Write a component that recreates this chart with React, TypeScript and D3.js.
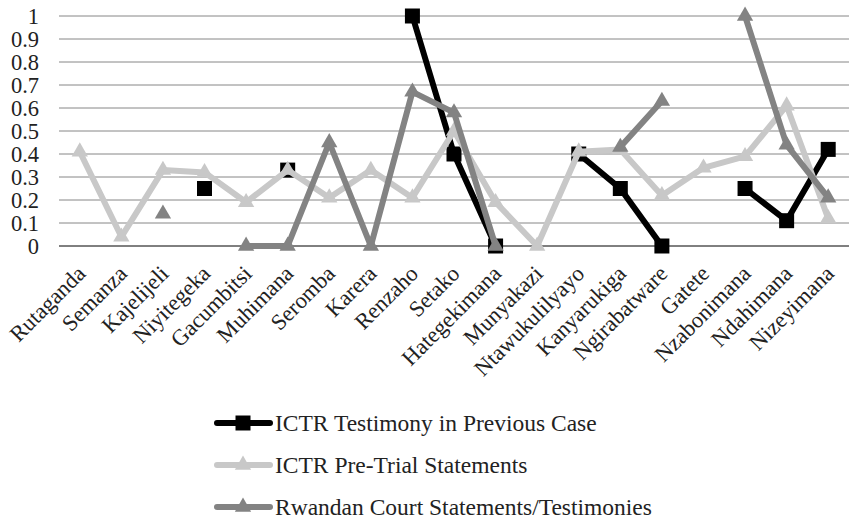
import React from "react";
import * as d3 from "d3";

const categories = ["Rutaganda","Semanza","Kajelijeli","Niyitegeka","Gacumbitsi","Muhimana","Seromba","Karera","Renzaho","Setako","Hategekimana","Munyakazi","Ntawukulilyayo","Kanyarukiga","Ngirabatware","Gatete","Nzabonimana","Ndahimana","Nizeyimana"];

const ictrTestimony: (number | null)[] = [null, null, null, 0.25, null, 0.33, null, null, 1.0, 0.4, 0, null, 0.4, 0.25, 0, null, 0.25, 0.11, 0.42];
const ictrPreTrial: (number | null)[] = [0.41, 0.04, 0.33, 0.32, 0.19, 0.33, 0.21, 0.33, 0.21, 0.5, 0.19, 0, 0.41, 0.42, 0.22, 0.34, 0.39, 0.61, 0.12];
const rwandanCourt: (number | null)[] = [null, null, 0.14, null, 0, 0, 0.45, 0, 0.67, 0.58, 0, null, null, 0.43, 0.63, null, 1.0, 0.44, 0.21];

const yTicks = [0, 0.1, 0.2, 0.3, 0.4, 0.5, 0.6, 0.7, 0.8, 0.9, 1];

const seriesNames = ["ICTR Testimony in Previous Case", "ICTR Pre-Trial Statements", "Rwandan Court Statements/Testimonies"];

const W = 849, H = 520;
const FAMILY = "Liberation Serif";

export default function App() {
  const x = d3.scaleBand<string>().domain(categories).range([59, 849]);
  const y = d3.scaleLinear().domain([0, 1]).range([246, 16]);
  const cx = (i: number) => (x(categories[i]) as number) + x.bandwidth() / 2;

  const series = [
    { name: seriesNames[0], values: ictrTestimony, color: "#000000", width: 6, marker: "square" },
    { name: seriesNames[1], values: ictrPreTrial, color: "#c8c8c8", width: 6, marker: "triangle" },
    { name: seriesNames[2], values: rwandanCourt, color: "#838383", width: 6, marker: "triangle" },
  ];

  const line = d3.line<number | null>()
    .defined((d) => d != null)
    .x((_, i) => cx(i))
    .y((d) => y(d as number));

  const tri = d3.symbol().type(d3.symbolTriangle).size(115)() as string;
  const sq = d3.symbol().type(d3.symbolSquare).size(225)() as string;

  const legendY = [423, 465, 507];

  return (
    <svg width={W} height={H} fontFamily={FAMILY} style={{ display: "block", position: "absolute", left: 0, top: 0, background: "#fff", fontFamily: FAMILY }}>
      <rect x={0} y={0} width={W} height={H} fill="#fff" />
      {yTicks.map((t) => (
        <g key={t}>
          <line x1={59} x2={849} y1={y(t)} y2={y(t)} stroke={t === 0 ? "#000" : "#868686"} strokeWidth={1} />
          <text x={39} y={y(t)} dy="0.35em" textAnchor="end" fontSize={22.5} fill="#222" fontFamily={FAMILY}>{t === 0 || t === 1 ? String(t) : t.toFixed(1)}</text>
        </g>
      ))}
      {categories.map((c, i) => (
        <text key={c} transform={`translate(${cx(i) + 7},${275}) rotate(-45)`} textAnchor="end" fontSize={22.5} fill="#222" fontFamily={FAMILY}>{c}</text>
      ))}
      {series.map((s) => (
        <g key={s.name}>
          <path d={line(s.values) || ""} fill="none" stroke={s.color} strokeWidth={s.width} strokeLinejoin="round" strokeLinecap="round" />
          {s.values.map((v, i) => v == null ? null : (
            <path key={i} d={s.marker === "square" ? sq : tri} transform={`translate(${cx(i)},${y(v)})`} fill={s.color} />
          ))}
        </g>
      ))}
      {series.map((s, k) => (
        <g key={"lg" + k} transform={`translate(0,${legendY[k]})`}>
          <line x1={217} x2={270} y1={0} y2={0} stroke={s.color} strokeWidth={s.width} strokeLinecap="round" />
          <path d={s.marker === "square" ? sq : tri} transform="translate(243,0)" fill={s.color} />
          <text x={275} y={0} dy="0.33em" fontSize={23.5} fill="#222" fontFamily={FAMILY}>{s.name}</text>
        </g>
      ))}
    </svg>
  );
}
